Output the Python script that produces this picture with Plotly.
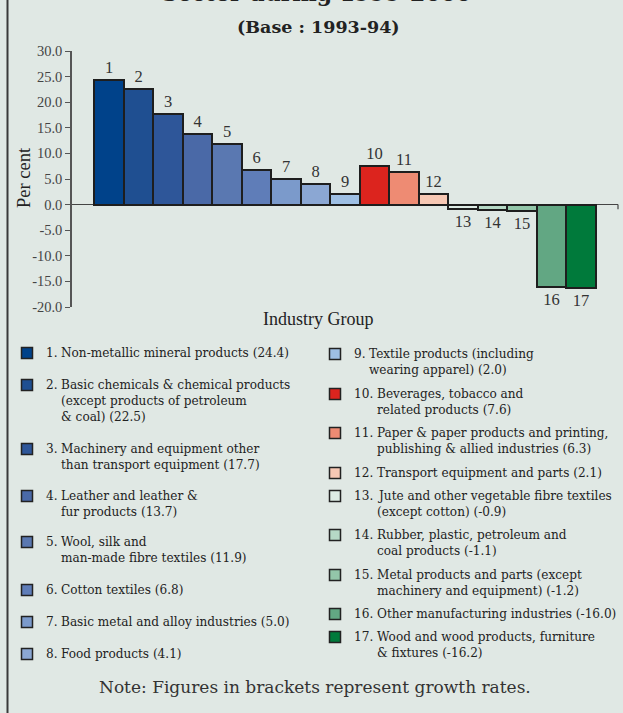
import plotly.graph_objects as go

# ---- data -----------------------------------------------------------------
group_no = list(range(1, 18))
growth = [24.4, 22.5, 17.7, 13.7, 11.9, 6.8, 5.0, 4.1, 2.0,
          7.6, 6.3, 2.1, -0.9, -1.1, -1.2, -16.0, -16.2]
group_names = [
    "Non-metallic mineral products",
    "Basic chemicals & chemical products\n(except products of petroleum\n& coal)",
    "Machinery and equipment other\nthan transport equipment",
    "Leather and leather &\nfur products",
    "Wool, silk and\nman-made fibre textiles",
    "Cotton textiles",
    "Basic metal and alloy industries",
    "Food products",
    "Textile products (including\nwearing apparel)",
    "Beverages, tobacco and\nrelated products",
    "Paper & paper products and printing,\npublishing & allied industries",
    "Transport equipment and parts",
    "Jute and other vegetable fibre textiles\n(except cotton)",
    "Rubber, plastic, petroleum and\ncoal products",
    "Metal products and parts (except\nmachinery and equipment)",
    "Other manufacturing industries",
    "Wood and wood products, furniture\n& fixtures",
]
y_ticks = [30, 25, 20, 15, 10, 5, 0, -5, -10, -15, -20]

# ---- styling --------------------------------------------------------------
W, H = 623, 713
BG = "#e0e8e4"
SERIF = "Liberation Serif"
WIDE_SERIF = "DejaVu Serif"
bar_colors = ["#00428a", "#1f4f91", "#2e5699", "#4a69a7", "#5a78b1", "#5f7db8",
              "#7b9acb", "#8ba7d3", "#9ebfe4", "#dc241e", "#ee8b73", "#f7c8b4",
              "#deece5", "#b6d9c6", "#93c6a9", "#62a783", "#007a3b"]

def fx(px):
    return px / W

def fy(py):
    return 1 - py / H

fig = go.Figure()

fig.add_trace(go.Bar(
    x=group_no, y=growth,
    width=1.0,
    marker=dict(color=bar_colors, line=dict(color="#1e1e1e", width=2)),
    text=[str(n) for n in group_no],
    textposition="outside",
    textfont=dict(family=SERIF, size=16.5, color="#333333"),
    cliponaxis=False,
    showlegend=False,
    hoverinfo="skip",
))

# ---- legend: two columns of swatches + wrapped labels ----------------------
left_rows = [353, 385, 449, 496, 542, 590, 622, 654]
right_rows = [354, 394, 433, 473, 496, 535, 575, 614, 637]
row_y = left_rows + right_rows
col_x = [44] * len(left_rows) + [352] * len(right_rows)
swatch_dx = -17
line_h = 16
legend_font = dict(family=WIDE_SERIF, size=12.1, color="#222222")

fig.add_trace(go.Scatter(
    x=[c + swatch_dx for c in col_x], y=row_y,
    xaxis="x2", yaxis="y2",
    mode="markers",
    marker=dict(symbol="square", size=11, color=bar_colors,
                line=dict(color="#222222", width=1.5)),
    showlegend=False, hoverinfo="skip",
))

annotations = []
for n, name, v, cx, ry in zip(group_no, group_names, growth, col_x, row_y):
    lines = (name + f" ({v:.1f})").split("\n")
    annotations.append(dict(
        x=fx(cx), y=fy(ry), xref="paper", yref="paper",
        text=f"{n}.", showarrow=False, xanchor="left", yanchor="middle",
        font=legend_font,
    ))
    tx = cx + (15 if n < 10 else 23)
    for k, ln in enumerate(lines):
        annotations.append(dict(
            x=fx(tx), y=fy(ry + k * line_h), xref="paper", yref="paper",
            text=ln, showarrow=False, xanchor="left", yanchor="middle",
            font=legend_font,
        ))

# titles and note
annotations += [
    dict(x=fx(316), y=fy(8), xref="paper", yref="paper",
         text="Sector during 1999-2000", showarrow=False,
         xanchor="center", yanchor="bottom",
         font=dict(family=WIDE_SERIF, size=22, color="#222222", weight="bold")),
    dict(x=fx(318), y=fy(27), xref="paper", yref="paper",
         text="(Base : 1993-94)", showarrow=False,
         xanchor="center", yanchor="middle",
         font=dict(family=WIDE_SERIF, size=17.5, color="#222222", weight="bold")),
    dict(x=fx(318), y=fy(319), xref="paper", yref="paper",
         text="Industry Group", showarrow=False,
         xanchor="center", yanchor="middle",
         font=dict(family=SERIF, size=18, color="#222222")),
    dict(x=fx(24), y=fy(178), xref="paper", yref="paper",
         text="Per cent", showarrow=False, textangle=-90,
         xanchor="center", yanchor="middle",
         font=dict(family=SERIF, size=18.5, color="#222222")),
    dict(x=fx(315), y=fy(687), xref="paper", yref="paper",
         text="Note: Figures in brackets represent growth rates.", showarrow=False,
         xanchor="center", yanchor="middle",
         font=dict(family=WIDE_SERIF, size=17, color="#333333")),
]

shapes = [
    # frame rule on the left edge
    dict(type="line", xref="paper", yref="paper", x0=fx(7.5), x1=fx(7.5),
         y0=0, y1=1, line=dict(color="#3a3a3a", width=2)),
    # closing tick at the right end of the zero line
    dict(type="line", xref="x domain", yref="y", x0=1, x1=1, y0=0, y1=-0.9,
         line=dict(color="#444444", width=1.2)),
]

fig.update_layout(
    width=W, height=H,
    margin=dict(l=0, r=0, t=0, b=0),
    paper_bgcolor=BG, plot_bgcolor="rgba(0,0,0,0)",
    template="none",
    bargap=0,
    annotations=annotations,
    shapes=shapes,
    xaxis=dict(domain=[fx(72), fx(618)], range=[-0.245, 18.245],
               showgrid=False, zeroline=False, showline=False,
               showticklabels=False, ticks="", automargin=False),
    yaxis=dict(domain=[fy(307), fy(51)], range=[-20, 30],
               tickvals=y_ticks, ticktext=[f"{t:.1f}" for t in y_ticks],
               ticks="outside", ticklen=5, tickcolor="#555555", tickwidth=1.2,
               showline=True, linecolor="#555555", linewidth=1.5,
               showgrid=False, zeroline=True, zerolinecolor="#444444",
               zerolinewidth=1.2,
               tickfont=dict(family=SERIF, size=14.5, color="#444444"),
               automargin=False),
    xaxis2=dict(domain=[0, 1], range=[0, W], visible=False, anchor="y2"),
    yaxis2=dict(domain=[0, 1], range=[H, 0], visible=False, anchor="x2"),
)

fig.write_html("out.html")
